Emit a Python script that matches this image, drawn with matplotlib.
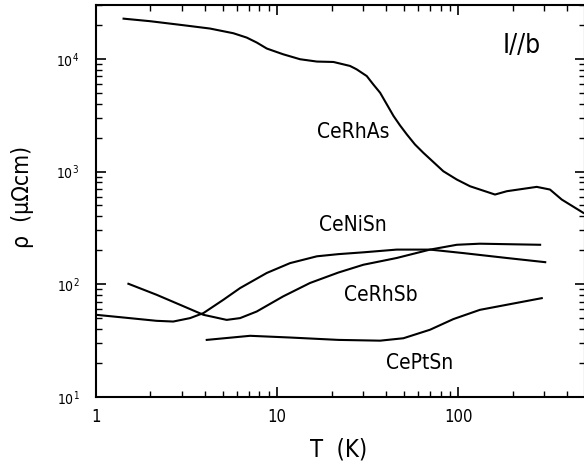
import numpy as np
import matplotlib
matplotlib.use('Agg')
import matplotlib.pyplot as plt
from matplotlib.ticker import LogLocator, NullFormatter

plt.rcParams['font.family'] = ['DejaVu Sans']
plt.rcParams['font.stretch'] = 'condensed'

# resistivity curves: T (K), rho (micro-ohm cm)
T_CeRhAs = [1.42, 1.99, 3.04, 4.26, 5.74, 6.80, 7.73, 8.78, 10.8, 13.4, 16.6,
            20.5, 25.3, 27.5, 31.3, 34.0, 37.1, 40.4, 44.0, 47.8, 52.1, 57.8,
            64.3, 82.9, 98.4, 116.5, 160, 186, 272, 322, 374, 492]
rho_CeRhAs = [22700, 21550, 19850, 18550, 16850, 15420, 13930, 12330, 10970,
              9910, 9450, 9370, 8640, 8070, 7030, 5930, 5000, 3945, 3110,
              2565, 2135, 1738, 1466, 1006, 849, 740, 625, 669, 731, 692, 564,
              430]

T_CeNiSn = [1.0, 1.42, 2.16, 2.67, 3.31, 3.92, 5.05, 6.25, 8.78, 11.8, 16.6,
            21.8, 30, 45.8, 70, 107, 186, 303]
rho_CeNiSn = [53.6, 50.7, 47.4, 46.7, 50.1, 55.5, 72.8, 92.5, 126, 154, 177,
              185, 192, 203, 203, 189, 171, 157]

T_CeRhSb = [1.51, 2.16, 2.91, 3.92, 5.27, 6.25, 7.72, 10.8, 15.2, 21.8, 30,
            45.8, 70, 98.4, 132, 284]
rho_CeRhSb = [101, 80.7, 65.8, 53.6, 48.3, 50.1, 57.3, 78, 102.6, 127, 149,
              171, 203, 224, 229, 224]

T_CePtSn = [4.09, 7.1, 11.8, 21.8, 37.1, 49.9, 70, 94.2, 132, 290]
rho_CePtSn = [32.1, 34.9, 33.7, 32.1, 31.6, 33.2, 39.5, 49.1, 59.3, 75.3]

X_TICKS = [1, 10, 100]
X_TICKLABELS = ['1', '10', '100']
Y_TICKS = [10, 100, 1000, 10000]

# sample labels: (text, T, rho)
LABELS = [('CeRhAs', 26.3, 2220), ('CeNiSn', 26.3, 338),
          ('CeRhSb', 37.6, 80.7), ('CePtSn', 61.7, 20.0)]

fig = plt.figure(figsize=(5.84, 4.68), dpi=100)
ax = fig.add_axes([96 / 584, 71 / 468, 488.6 / 584, 392 / 468])

for T, rho in [(T_CeRhAs, rho_CeRhAs), (T_CeNiSn, rho_CeNiSn),
               (T_CeRhSb, rho_CeRhSb), (T_CePtSn, rho_CePtSn)]:
    ax.plot(T, rho, color='black', linewidth=1.5)

ax.set_xscale('log')
ax.set_yscale('log')
ax.set_xlim(1, 500)
ax.set_ylim(10, 3e4)

ax.set_xticks(X_TICKS)
ax.set_xticklabels(X_TICKLABELS)
ax.set_yticks(Y_TICKS)
ax.xaxis.set_minor_locator(LogLocator(base=10, subs=np.arange(2, 10)))
ax.yaxis.set_minor_locator(LogLocator(base=10, subs=np.arange(2, 10)))
ax.xaxis.set_minor_formatter(NullFormatter())
ax.yaxis.set_minor_formatter(NullFormatter())

ax.tick_params(which='both', direction='in', top=True, right=True)
ax.tick_params(which='major', length=7, width=1.2)
ax.tick_params(which='minor', length=4, width=1.0)
ax.tick_params(axis='x', which='major', labelsize=12, pad=8)
ax.tick_params(axis='y', which='major', labelsize=10, pad=12)
for s in ax.spines.values():
    s.set_linewidth(1.5)

ax.set_xlabel('T  (K)', fontsize=17, va='center')
ax.xaxis.set_label_coords(0.497, -0.135)
ax.set_ylabel('ρ  (μΩcm)', fontsize=16.5, va='center')
ax.yaxis.set_label_coords(-0.151, 0.51)

for name, tx, ty in LABELS:
    ax.text(tx, ty, name, fontsize=15, ha='center', va='center')
ax.text(226, 12900, 'I//b', fontsize=19, ha='center', va='center')

fig.savefig('out.png', dpi=100)
